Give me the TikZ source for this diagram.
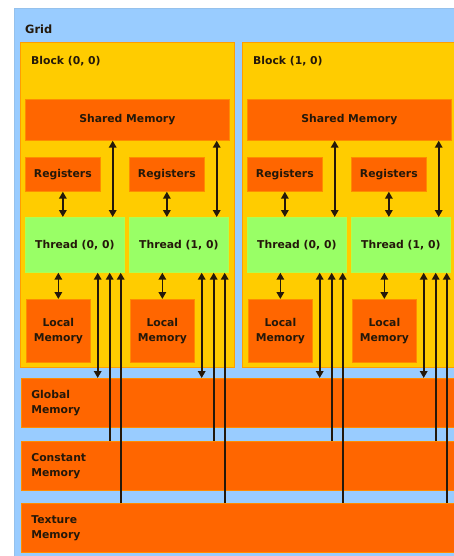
\documentclass[tikz,border=0pt]{standalone}
\usepackage{fontspec}
\setmainfont{DejaVu Sans}
\usetikzlibrary{arrows.meta, positioning}

\definecolor{gridblue}{HTML}{99CCFF}
\definecolor{blockyellow}{HTML}{FFCC00}
\definecolor{memorange}{HTML}{FF6600}
\definecolor{threadgreen}{HTML}{99FF66}
\definecolor{inkdark}{HTML}{24180A}

\begin{document}
\begin{tikzpicture}[
    x=1pt, y=-1pt,
    font=\bfseries\fontsize{10.8}{15}\selectfont,
    every node/.style={text=inkdark, inner sep=0pt},
    blockbox/.style={rectangle, draw=orange!60!blockyellow, line width=0.7pt, fill=blockyellow, anchor=north west, minimum width=214pt, minimum height=325pt},
    mem/.style={rectangle, draw=memorange!75!yellow, line width=0.7pt, fill=memorange, anchor=north west},
    rowmem/.style={mem, minimum width=450pt, minimum height=49pt, text width=430pt, inner xsep=10pt, align=left},
    regbox/.style={mem, minimum width=75pt, minimum height=34pt},
    localbox/.style={mem, minimum width=64pt, minimum height=63pt, align=center},
    thread/.style={rectangle, draw=threadgreen!80!yellow, line width=0.7pt, fill=threadgreen, anchor=north west, minimum width=99pt, minimum height=55pt},
    link/.style={line width=1.7pt, draw=inkdark, {Triangle[width=7.5pt,length=7pt]}-{Triangle[width=7.5pt,length=7pt]}},
    linkup/.style={line width=1.7pt, draw=inkdark, -{Triangle[width=7.5pt,length=7pt]}}
]
    \useasboundingbox (0,0) rectangle (454,556);
    \clip (0,0) rectangle (454,556);

    % grid
    \fill[gridblue, draw=gridblue!85!gray, line width=0.7pt] (14,8) rectangle (470,570);
    \node[anchor=west, font=\bfseries\fontsize{11.4}{13}\selectfont] (gridlbl) at (25,29) {Grid};

    % device memories
    \node[rowmem] (glob) at (21,378) {Global\\Memory};
    \node[rowmem] (const) at (21,441) {Constant\\Memory};
    \node[rowmem] (tex) at (21,503) {Texture\\Memory};

    % blocks
    \foreach \b/\dx in {0/0, 1/222} {
      \begin{scope}[xshift=\dx pt]
        \node[blockbox] (blk\b) at (20,42) {};
        \node[anchor=west, font=\bfseries\fontsize{10.8}{12}\selectfont] (blklbl\b) at (31,61) {Block (\b, 0)};
        \node[mem, minimum width=204pt, minimum height=41pt] (sm\b) at (25,99) {Shared Memory};

        \foreach \t/\tx in {0/0, 1/104} {
          \node[regbox] (reg\b\t) at (25+\tx,157) {Registers};
          \node[thread] (th\b\t) at (25+\tx,217) {Thread (\t, 0)};
          \node[localbox] (lm\b\t) at (26+\tx,299) {Local\\Memory};

          \draw[link] (reg\b\t.south) -- (reg\b\t.south |- th\b\t.north);
          \draw[link] (lm\b\t.north |- th\b\t.south) -- (lm\b\t.north);
          \draw[link] ([xshift=-12pt]th\b\t.north east) -- ([xshift=-12pt]th\b\t.north east |- sm\b.south);
          \draw[link] ([xshift=-27pt]th\b\t.south east) -- ([xshift=-27pt]th\b\t.south east |- glob.north);
          \draw[linkup] ([xshift=-15pt]th\b\t.south east |- const.north) -- ([xshift=-15pt]th\b\t.south east);
          \draw[linkup] ([xshift=-4pt]th\b\t.south east |- tex.north) -- ([xshift=-4pt]th\b\t.south east);
        }
      \end{scope}
    }
\end{tikzpicture}
\end{document}
